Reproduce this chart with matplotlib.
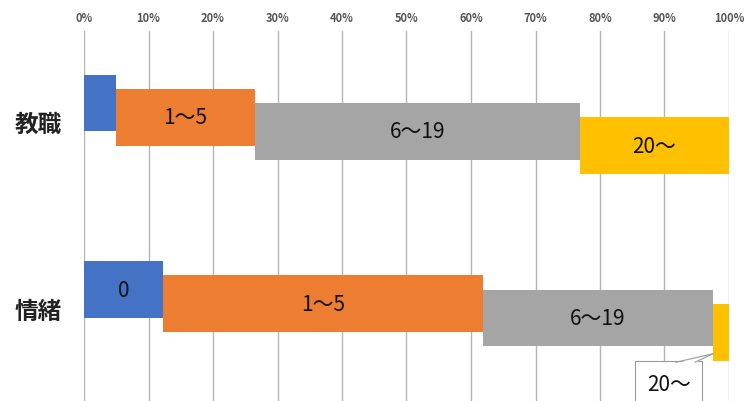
import matplotlib
matplotlib.use("Agg")
import matplotlib.pyplot as plt
import matplotlib.transforms as mtransforms
from matplotlib.patches import Polygon
import numpy as np

plt.rcParams['font.family'] = ['Noto Sans CJK JP', 'DejaVu Sans']

# data (percent of respondents)
categories = ["教職", "情緒"]
series_names = ["0", "1〜5", "6〜19", "20〜"]
s_zero = [5.0, 12.3]
s_one_five = [21.5, 49.6]
s_six_19 = [50.4, 35.6]
s_twenty = [23.1, 2.5]
colors = ["#4472C4", "#ED7D31", "#A5A5A5", "#FFC000"]
xticks = [0, 10, 20, 30, 40, 50, 60, 70, 80, 90, 100]

series = [s_zero, s_one_five, s_six_19, s_twenty]

W, H = 747, 402
fig = plt.figure(figsize=(W / 100, H / 100), dpi=100)
ax = fig.add_axes([84 / W, 0, 645 / W, (H - 32) / H])

bar_h = 0.305   # thickness of each segment
step = 0.076    # each segment sits a bit lower than the previous one
edge = "#9a9a9a"


def callout(x, y, text):
    # box + wedge pointing at (x, y), offsets in pixels at dpi 100
    anchor = mtransforms.ScaledTranslation(x, y, ax.transData)
    tr = fig.dpi_scale_trans + anchor
    ax.annotate(text, xy=(x, y), xytext=(-44 * 0.72, -30 * 0.72),
                textcoords="offset points", ha="center", va="center",
                fontsize=15, color="#111111",
                bbox=dict(boxstyle="square,pad=0.55", fc="white", ec=edge, lw=0.8),
                zorder=4, annotation_clip=False)
    base_l, base_r, base_y = -37 / 100, -18 / 100, -8.5 / 100
    tri = Polygon([(base_l, base_y - 0.01), (0, 0), (base_r, base_y - 0.01)],
                  closed=True, fc="white", ec="none", transform=tr,
                  zorder=5, clip_on=False)
    ax.add_patch(tri)
    for bx in (base_l, base_r):
        ax.plot([bx, 0], [base_y, 0], color=edge, lw=0.8, transform=tr,
                zorder=6, clip_on=False)


left = np.zeros(len(categories))
for j, (vals, col, name) in enumerate(zip(series, colors, series_names)):
    vals = np.array(vals)
    ys = np.arange(len(categories)) + (j - 1.5) * step
    ax.barh(ys, vals, left=left, height=bar_h, color=col, zorder=2)
    for i, v in enumerate(vals):
        cx = left[i] + v / 2
        if v >= 10:
            ax.text(cx, ys[i], name, ha="center", va="center",
                    fontsize=15, color="#111111", zorder=3)
        elif j == len(series) - 1:
            # small last segment gets a callout
            callout(left[i], ys[i] + 0.38 * bar_h, name)
    left = left + vals

for i, cat in enumerate(categories):
    fig.text(38 / W, 1 - (125 + i * 186.6) / H, cat, ha="center", va="center",
             fontsize=17, fontweight="bold", color="#222222")

ax.set_xlim(0, 100)
ax.set_ylim(1.483, -0.5)
ax.set_xticks(xticks)
ax.set_xticklabels([f"{t}%" for t in xticks], fontsize=8, fontweight="bold",
                   color="#555555")
ax.xaxis.tick_top()
ax.tick_params(axis="x", length=0, pad=5)
ax.set_yticks([])
ax.grid(axis="x", color="#b4b4b4", lw=1)
ax.set_axisbelow(True)
for s in ax.spines.values():
    s.set_visible(False)

fig.savefig("out.png", dpi=100)
